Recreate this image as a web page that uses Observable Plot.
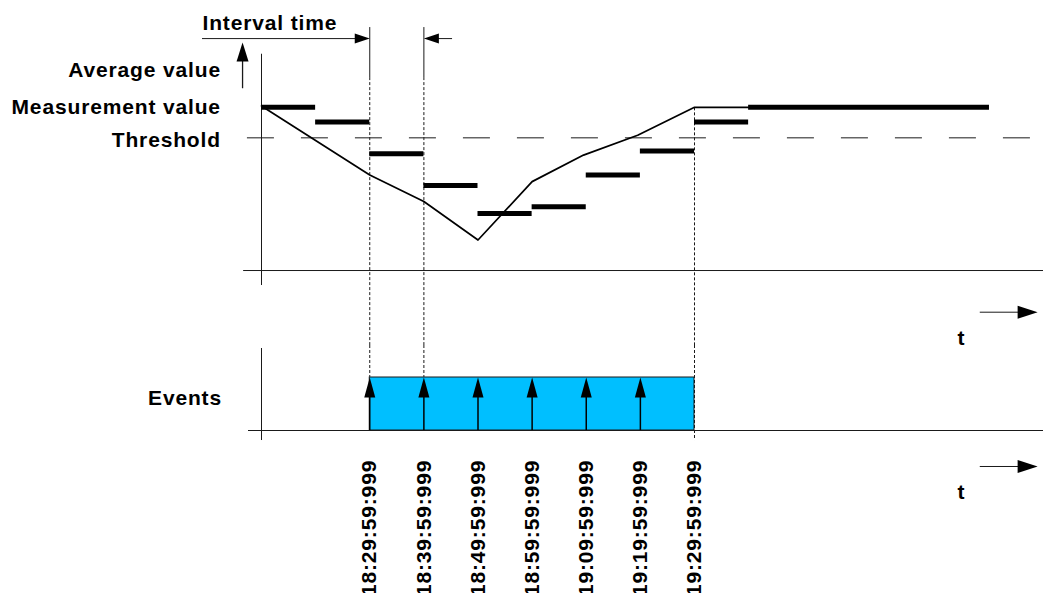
<!DOCTYPE html>
<html>
<head>
<meta charset="utf-8">
<script src="https://cdn.jsdelivr.net/npm/d3@7"></script>
<script src="https://cdn.jsdelivr.net/npm/@observablehq/plot@0.6"></script>
<style>
  html, body { margin: 0; padding: 0; background: #fff; overflow: hidden; }
  #chart svg { display: block; overflow: visible; }
  #chart svg text { letter-spacing: 0.85px; }
</style>
</head>
<body>
<div id="chart"></div>
<script>
// ---- data (minutes after 18:09:59:999, values in arbitrary units) ----
const intervalStarts = [0, 10, 20, 30, 40, 50, 60, 70, 80, 90];
const intervalEnds   = [10, 20, 30, 40, 50, 60, 70, 80, 90, 134.5];
const averageValues  = [123, 112, 88, 64, 43, 48, 72, 90, 112, 123];
const measureTimes   = [0, 20, 30, 40, 50, 59.5, 69.5, 80, 90];
const measureValues  = [124, 72, 52, 23, 67, 87, 102, 123, 123];
const threshold = 100;
const eventTimes = [20, 30, 40, 50, 60, 70];
const alarmStart = 20, alarmEnd = 80;
const tickTimes  = [20, 30, 40, 50, 60, 70, 80];
const tickLabels = ["18:29:59:999", "18:39:59:999", "18:49:59:999", "18:59:59:999",
                    "19:09:59:999", "19:19:59:999", "19:29:59:999"];
const rowLabels = ["Average value", "Measurement value", "Threshold"];
const rowLabelValues = [151, 123.4, 98.2];

// ---- tables built from the arrays ----
const averages = averageValues.map((v, i) => ({x1: intervalStarts[i], x2: intervalEnds[i], v}));
const measurement = measureTimes.map((t, i) => ({t, v: measureValues[i]}));
const rows = rowLabels.map((label, i) => ({label, v: rowLabelValues[i]}));
const ticks = tickLabels.map((label, i) => ({label, t: tickTimes[i]}));

const W = 1043;
const xDomain = [-261 / 5.4125, (W - 261) / 5.4125];
const font = {fontFamily: "Liberation Sans, Arial, Helvetica, sans-serif", fontWeight: "bold", fontSize: 21, fill: "black"};
const ink = "#1a1a1a";
const head = (w, h) => ({draw(ctx) { ctx.moveTo(0, 0); ctx.lineTo(w / 2, h); ctx.lineTo(-w / 2, h); ctx.closePath(); }});
const svgStyle = {background: "transparent", overflow: "visible"};

// ---- top panel: values over time ----
const valuePanel = Plot.plot({
  width: W, height: 345, margin: 0,
  style: svgStyle,
  x: {domain: xDomain, axis: null},
  y: {domain: [-56.5, 203.5], axis: null},
  marks: [
    Plot.ruleX([0], {y1: -11.3, y2: 163, stroke: ink, strokeWidth: 1}),
    Plot.ruleY([0], {x1: -3.3, x2: xDomain[1], stroke: ink, strokeWidth: 1}),
    Plot.ruleY([threshold], {x1: -2.6, x2: xDomain[1], stroke: ink, strokeWidth: 1, strokeDasharray: "27,27"}),
    // interval markers
    Plot.ruleX([20, 30], {y1: 145.4, y2: 183.1, stroke: ink, strokeWidth: 1}),
    Plot.ruleX([20, 30], {y1: 145.4, y2: -56.5, stroke: ink, strokeWidth: 1, strokeDasharray: "3,2"}),
    Plot.ruleX([80], {y1: 122.6, y2: -56.5, stroke: ink, strokeWidth: 1, strokeDasharray: "3,2"}),
    Plot.ruleY([174.8], {x1: -10.9, x2: 18, stroke: ink, strokeWidth: 1}),
    Plot.ruleY([174.8], {x1: 32, x2: 35.3, stroke: ink, strokeWidth: 1}),
    Plot.dot([{t: 20, r: 90}, {t: 30, r: -90}], {x: "t", y: () => 174.8, rotate: "r", symbol: head(10, 15), fill: "black", stroke: "none"}),
    Plot.text(["Interval time"], {x: -10.9, y: 186.1, text: d => d, textAnchor: "start", ...font}),
    // y-direction arrow
    Plot.ruleX([-3.5], {y1: 137, y2: 160, stroke: ink, strokeWidth: 1.3}),
    Plot.dot([0], {x: () => -3.5, y: () => 171.8, symbol: head(12, 19), fill: "black", stroke: "none"}),
    // row labels
    Plot.text(rows, {x: () => -7.5, y: "v", text: "label", textAnchor: "end", ...font}),
    // averages and measurement
    Plot.ruleY(averages, {x1: "x1", x2: "x2", y: "v", stroke: "black", strokeWidth: 5}),
    Plot.line(measurement, {x: "t", y: "v", stroke: "black", strokeWidth: 1.7}),
    // time arrow
    Plot.ruleY([-31.4], {x1: 132.8, x2: 140, stroke: ink, strokeWidth: 1}),
    Plot.dot([0], {x: () => 143.4, y: () => -31.4, rotate: 90, symbol: head(13, 20), fill: "black", stroke: "none"}),
    Plot.text(["t"], {x: 129.3, y: -51.2, text: d => d, ...font})
  ]
});

// ---- bottom panel: events ----
const eventPanel = Plot.plot({
  width: W, height: 248, margin: 0,
  style: svgStyle,
  x: {domain: xDomain, axis: null},
  y: {domain: [-3.0755, 1.6038], axis: null},
  marks: [
    Plot.rect([{x1: alarmStart, x2: alarmEnd}], {x1: "x1", x2: "x2", y1: 0, y2: 1, fill: "#00BFFF", stroke: ink, strokeWidth: 1}),
    Plot.ruleX([0], {y1: 1.547, y2: -0.189, stroke: ink, strokeWidth: 1}),
    Plot.ruleY([0], {x1: -2.4, x2: xDomain[1], stroke: ink, strokeWidth: 1}),
    Plot.ruleX([20, 30], {y1: 1.6038, y2: 1, stroke: ink, strokeWidth: 1, strokeDasharray: "3,2"}),
    Plot.ruleX([80], {y1: 1.6038, y2: -0.189, stroke: ink, strokeWidth: 1, strokeDasharray: "3,2"}),
    Plot.ruleX(eventTimes, {y1: 0, y2: 0.7, stroke: "black", strokeWidth: 1.5}),
    Plot.dot(eventTimes, {x: d => d, y: () => 1, symbol: head(11, 20), fill: "black", stroke: "none"}),
    Plot.text(["Events"], {x: -7.3, y: 0.604, text: d => d, textAnchor: "end", ...font}),
    Plot.ruleY([-0.679], {x1: 132.8, x2: 140, stroke: ink, strokeWidth: 1}),
    Plot.dot([0], {x: () => 143.4, y: () => -0.679, rotate: 90, symbol: head(13, 20), fill: "black", stroke: "none"}),
    Plot.text(["t"], {x: 129.3, y: -1.17, text: d => d, ...font}),
    Plot.text(ticks, {x: "t", y: () => -0.553, text: "label", rotate: -90, textAnchor: "end", ...font})
  ]
});

const el = document.getElementById("chart");
el.append(valuePanel, eventPanel);
</script>
</body>
</html>
